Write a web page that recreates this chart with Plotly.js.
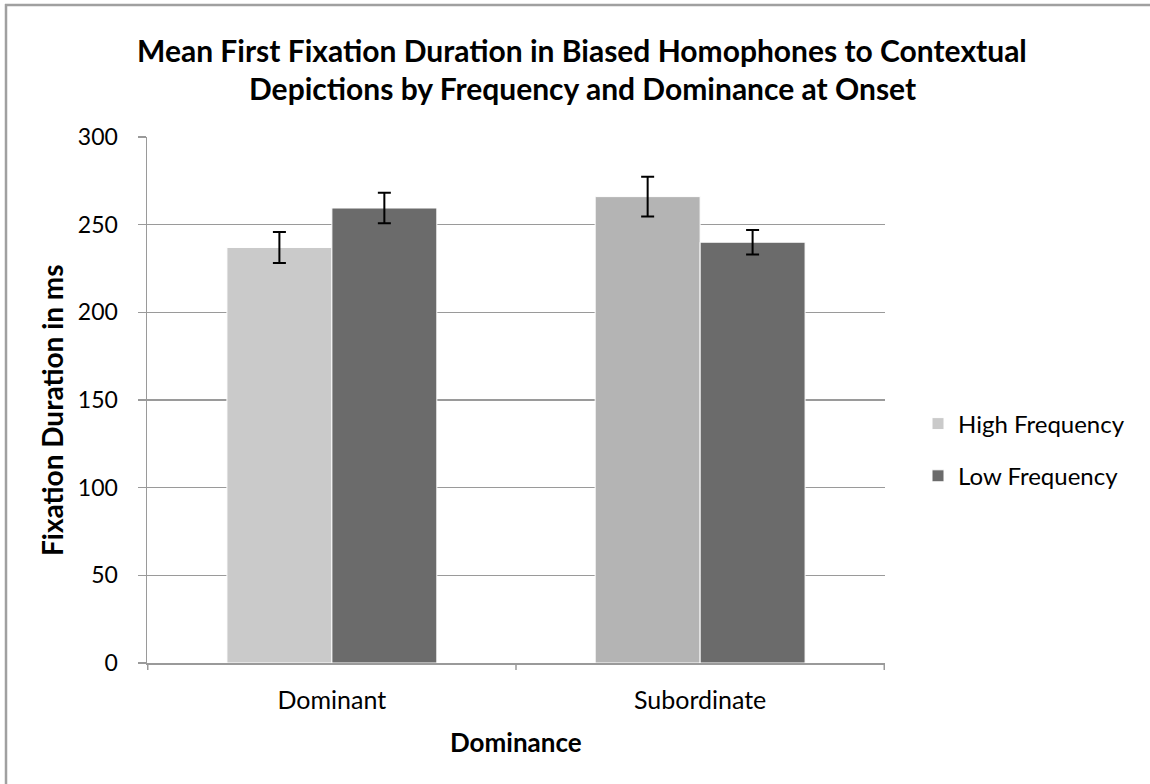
<!DOCTYPE html>
<html>
<head>
<meta charset="utf-8">
<script src="https://cdn.plot.ly/plotly-3.0.1.min.js"></script>
<style>html,body{margin:0;padding:0;background:#fff;overflow:hidden;}#chart{width:1150px;height:784px;}</style>
</head>
<body>
<div id="chart"></div>
<script>
const categories = ["Dominant", "Subordinate"];
const seriesNames = ["High Frequency", "Low Frequency"];
const highValues = [237, 266];
const highErrors = [8.8, 11.4];
const lowValues = [259.5, 240];
const lowErrors = [8.7, 7];
const highColors = ["#cacaca", "#b4b4b4"];
const lowColors = ["#6b6b6b", "#6b6b6b"];
const yTicks = [0, 50, 100, 150, 200, 250, 300];
const titleLines = ["Mean First Fixation Duration in Biased Homophones to Contextual",
                    "Depictions by Frequency and Dominance at Onset"];
const xTitle = "Dominance";
const yTitle = "Fixation Duration in ms";

const FONT = "Lato, 'Open Sans', sans-serif";
const errStyle = {type: "data", visible: true, color: "#000", thickness: 2, width: 6.5};

const traces = [
  {type: "bar", name: seriesNames[0], x: categories, y: highValues,
   marker: {color: highColors, line: {color: "#ffffff", width: 1}},
   error_y: Object.assign({array: highErrors}, errStyle), legendgroup: "a"},
  {type: "bar", name: seriesNames[1], x: categories, y: lowValues,
   marker: {color: lowColors, line: {color: "#ffffff", width: 1}},
   error_y: Object.assign({array: lowErrors}, errStyle), legendgroup: "b"}
];

const L = 147, R = 265, T = 137, B = 121, W = 1150 - L - R, H = 784 - T - B;
const px = v => (v - L) / W;
const py = v => (784 - B - v) / H;

const ann = (text, x, y, size, angle) => ({
  text: "<b>" + text + "</b>", xref: "paper", yref: "paper", x: px(x), y: py(y),
  xanchor: "center", yanchor: "middle", showarrow: false, textangle: angle || 0,
  font: {family: FONT, size: size, color: "#000"}
});

const layout = {
  width: 1150, height: 784,
  margin: {l: L, r: R, t: T, b: B, autoexpand: false},
  paper_bgcolor: "#fff", plot_bgcolor: "#fff",
  font: {family: FONT, color: "#000", size: 18},
  barmode: "group", bargap: 0.43, bargroupgap: 0,
  xaxis: {type: "category", showline: true, linecolor: "#9a9a9a", linewidth: 1.5,
          ticks: "", showgrid: false, tickfont: {size: 25, family: FONT}, ticklabelstandoff: 14,
          automargin: false},
  yaxis: {range: [0, 300], tickvals: yTicks, showline: true, linecolor: "#9a9a9a", linewidth: 1.5,
          ticks: "outside", ticklen: 8, tickcolor: "#9a9a9a", tickwidth: 1.5,
          showgrid: true, gridcolor: "#9a9a9a", gridwidth: 1.5, zeroline: false,
          tickfont: {size: 23, family: FONT}, ticklabelstandoff: 15, automargin: false},
  legend: {x: px(918), xanchor: "left", y: py(450), yanchor: "middle",
           font: {size: 24, family: FONT}, tracegroupgap: 18, bgcolor: "rgba(0,0,0,0)"},
  annotations: [
    ann(titleLines[0], 582, 50, 30),
    ann(titleLines[1], 582, 88, 30),
    ann(xTitle, 516, 742, 26),
    ann(yTitle, 52, 410, 28, -90)
  ],
  shapes: [
    {type: "rect", xref: "paper", yref: "paper", x0: px(1138), x1: px(1150), y0: py(10), y1: py(784), fillcolor: "#fff", line: {width: 0}, layer: "above"},
    {type: "line", xref: "paper", yref: "paper", x0: px(6), x1: px(6), y0: py(4), y1: py(784), line: {color: "#a0a0a0", width: 2.5}},
    {type: "line", xref: "paper", yref: "paper", x0: px(5), x1: px(1150), y0: py(5), y1: py(5), line: {color: "#a0a0a0", width: 2.5}},
    {type: "line", xref: "x", yref: "paper", x0: -0.5, x1: -0.5, y0: 0, y1: py(670), line: {color: "#9a9a9a", width: 1.5}},
    {type: "line", xref: "x", yref: "paper", x0: 0.5, x1: 0.5, y0: 0, y1: py(670), line: {color: "#9a9a9a", width: 1.5}},
    {type: "line", xref: "x", yref: "paper", x0: 1.5, x1: 1.5, y0: 0, y1: py(670), line: {color: "#9a9a9a", width: 1.5}}
  ],
  showlegend: true
};

Plotly.newPlot("chart", traces, layout, {displayModeBar: false, staticPlot: true});
</script>
</body>
</html>
